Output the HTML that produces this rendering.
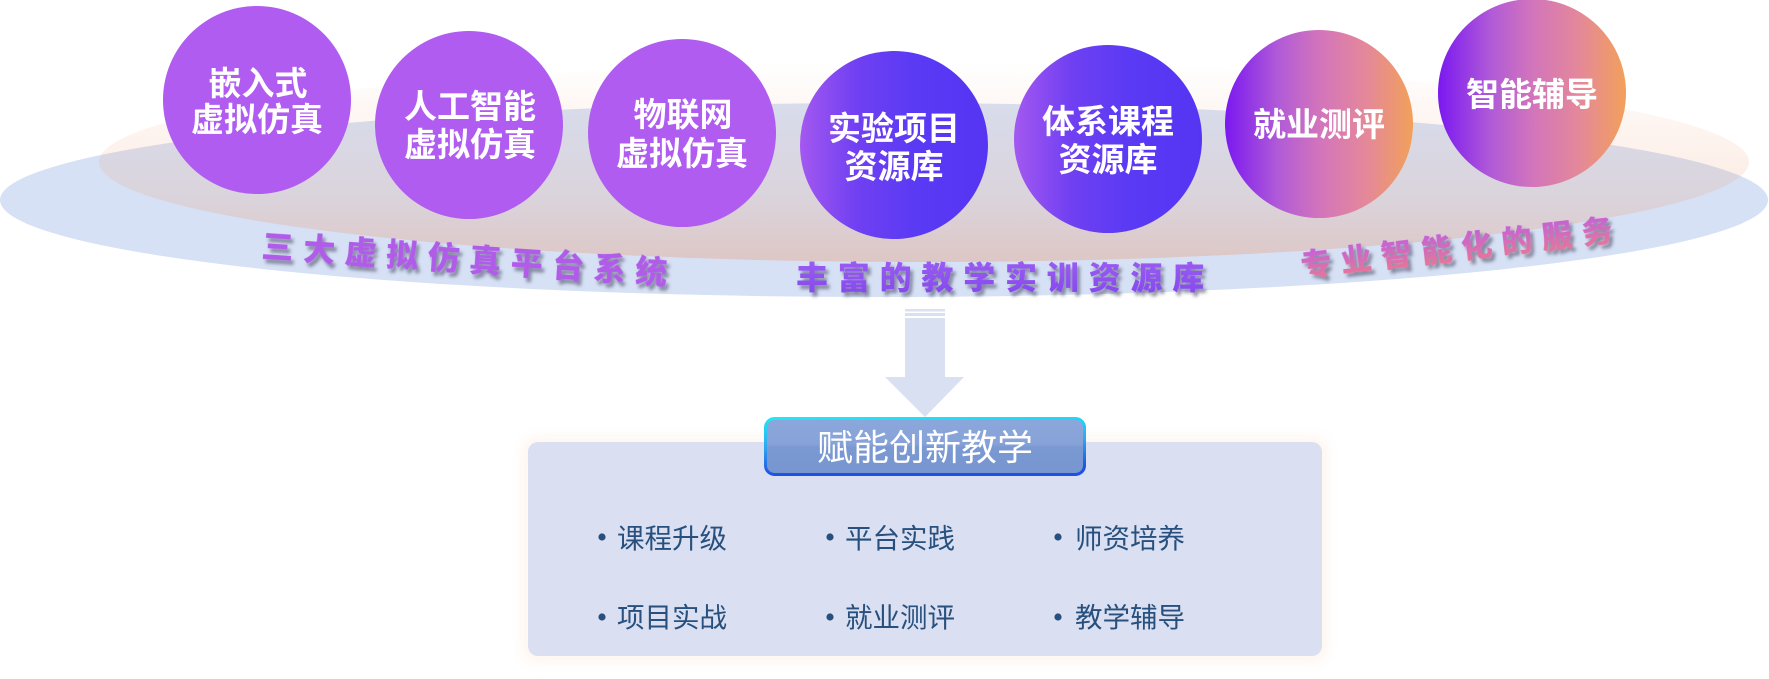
<!DOCTYPE html>
<html>
<head>
<meta charset="utf-8">
<style>
  html, body { margin:0; padding:0; background:#ffffff; }
  body { width:1769px; height:679px; overflow:hidden; position:relative; }
  svg { position:absolute; left:0; top:0; }
  text { font-family: "Liberation Sans", "Noto Sans CJK SC", sans-serif; }
</style>
</head>
<body>
<svg width="1769" height="679" viewBox="0 0 1769 679" xmlns="http://www.w3.org/2000/svg">
  <defs>
    <linearGradient id="peach" x1="0" y1="0" x2="0" y2="1">
      <stop offset="0" stop-color="rgb(238,150,105)" stop-opacity="0.0"/>
      <stop offset="0.25" stop-color="rgb(238,150,105)" stop-opacity="0.08"/>
      <stop offset="0.7" stop-color="rgb(238,150,105)" stop-opacity="0.19"/>
      <stop offset="1" stop-color="rgb(236,146,100)" stop-opacity="0.33"/>
    </linearGradient>
    <linearGradient id="gBlue" x1="0" y1="0" x2="1" y2="0">
      <stop offset="0" stop-color="#a458f0"/>
      <stop offset="0.3" stop-color="#7040f2"/>
      <stop offset="0.6" stop-color="#5b3af4"/>
      <stop offset="1" stop-color="#5535f3"/>
    </linearGradient>
    <linearGradient id="gOrange" x1="0" y1="0" x2="1" y2="0">
      <stop offset="0" stop-color="#7a18f0"/>
      <stop offset="0.28" stop-color="#b05ad8"/>
      <stop offset="0.5" stop-color="#d274bc"/>
      <stop offset="0.75" stop-color="#e4889a"/>
      <stop offset="1" stop-color="#f2a05a"/>
    </linearGradient>
    <linearGradient id="lbl3" x1="0" y1="0" x2="0" y2="1">
      <stop offset="0" stop-color="#c262da"/>
      <stop offset="1" stop-color="#ea7890"/>
    </linearGradient>
    <linearGradient id="lbl2" x1="0" y1="0" x2="0" y2="1">
      <stop offset="0" stop-color="#9a5cf2"/>
      <stop offset="1" stop-color="#8548ee"/>
    </linearGradient>
    <linearGradient id="boxFill" x1="0" y1="0" x2="0" y2="1">
      <stop offset="0" stop-color="#8ba7da"/>
      <stop offset="0.45" stop-color="#86a2d8"/>
      <stop offset="0.52" stop-color="#7a98d2"/>
      <stop offset="1" stop-color="#7796d0"/>
    </linearGradient>
    <linearGradient id="boxStroke" x1="0" y1="0" x2="0.15" y2="1">
      <stop offset="0" stop-color="#1ee8f6"/>
      <stop offset="0.5" stop-color="#30a6f0"/>
      <stop offset="1" stop-color="#1d50e4"/>
    </linearGradient>
    <filter id="sh" x="-10%" y="-30%" width="120%" height="170%">
      <feDropShadow dx="3" dy="4" stdDeviation="1.6" flood-color="#50506a" flood-opacity="0.6"/>
    </filter>
    <filter id="glow" x="-10%" y="-20%" width="120%" height="140%">
      <feGaussianBlur stdDeviation="6"/>
    </filter>
  </defs>

  <!-- background ellipses -->
  <ellipse cx="884" cy="200" rx="884" ry="97" fill="#d6e1f5"/>
  <ellipse cx="924" cy="162" rx="825" ry="100" fill="url(#peach)"/>

  <!-- circles -->
  <circle cx="257" cy="100" r="94" fill="#b05cf0"/>
  <circle cx="469" cy="125" r="94" fill="#b05cf0"/>
  <circle cx="682" cy="133" r="94" fill="#b05cf0"/>
  <circle cx="894" cy="145" r="94" fill="url(#gBlue)"/>
  <circle cx="1108" cy="139" r="94" fill="url(#gBlue)"/>
  <circle cx="1319" cy="124" r="94" fill="url(#gOrange)"/>
  <circle cx="1532" cy="93" r="94" fill="url(#gOrange)"/>

  <!-- circle texts -->
  <g fill="#ffffff" font-size="33" font-weight="700" text-anchor="middle">
    <text x="258" y="95">嵌入式</text>
    <text x="257" y="131">虚拟仿真</text>
    <text x="470" y="118">人工智能</text>
    <text x="470" y="156">虚拟仿真</text>
    <text x="683" y="126">物联网</text>
    <text x="682" y="165">虚拟仿真</text>
    <text x="894" y="140">实验项目</text>
    <text x="894" y="178">资源库</text>
    <text x="1108" y="133">体系课程</text>
    <text x="1108" y="171">资源库</text>
    <text x="1319" y="136">就业测评</text>
    <text x="1532" y="106">智能辅导</text>
  </g>

  <!-- labels -->
  <text x="261" y="257" font-size="32" font-weight="900" fill="#b05ce9" letter-spacing="9.6" filter="url(#sh)" transform="rotate(3.8 261 257)">三大虚拟仿真平台系统</text>
  <text x="796" y="289" font-size="32" font-weight="900" fill="url(#lbl2)" letter-spacing="9.8" filter="url(#sh)">丰富的教学实训资源库</text>
  <text x="1302" y="277" font-size="31" font-weight="900" fill="url(#lbl3)" letter-spacing="9.4" filter="url(#sh)" transform="rotate(-6.6 1302 277)">专业智能化的服务</text>

  <!-- arrow -->
  <g fill="#d9e0f1">
    <rect x="905" y="309" width="40" height="2.5"/>
    <rect x="905" y="313" width="40" height="3"/>
    <rect x="905" y="318" width="40" height="60"/>
    <polygon points="885,377 964,377 925,417"/>
  </g>

  <!-- panel -->
  <rect x="522" y="437" width="806" height="225" rx="14" fill="#fde9dc" opacity="0.45" filter="url(#glow)"/>
  <rect x="528" y="442" width="794" height="214" rx="10" fill="#dae0f1"/>

  <!-- title box -->
  <rect x="765.5" y="418.5" width="319" height="56" rx="9" fill="url(#boxFill)" stroke="url(#boxStroke)" stroke-width="3"/>
  <text x="925" y="460" font-size="36" fill="#ffffff" text-anchor="middle">赋能创新教学</text>

  <!-- items -->
  <g fill="#27507e">
    <circle cx="602" cy="537" r="3.6"/>
    <circle cx="830" cy="537" r="3.6"/>
    <circle cx="1058" cy="537" r="3.6"/>
    <circle cx="602" cy="617" r="3.6"/>
    <circle cx="830" cy="617" r="3.6"/>
    <circle cx="1058" cy="617" r="3.6"/>
  </g>
  <g fill="#27507e" font-size="27.5">
    <text x="617" y="548">课程升级</text>
    <text x="845" y="548">平台实践</text>
    <text x="1075" y="548">师资培养</text>
    <text x="617" y="627">项目实战</text>
    <text x="845" y="627">就业测评</text>
    <text x="1075" y="627">教学辅导</text>
  </g>
</svg>
</body>
</html>
